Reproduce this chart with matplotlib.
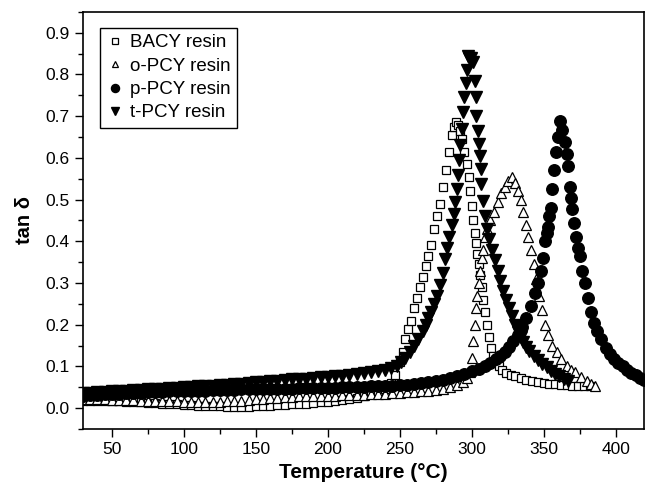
import matplotlib
matplotlib.use("Agg")
import matplotlib.pyplot as plt
from matplotlib.ticker import MultipleLocator

plt.rcParams['font.family'] = ['Liberation Sans', 'DejaVu Sans']

# ---- data (temperature in degC, tan delta) ----
base_T = [30, 35, 40, 45, 50, 55, 60, 65, 70, 75, 80, 85, 90, 95, 100, 105, 110,
          115, 120, 125, 130, 135, 140, 145, 150, 155, 160, 165, 170, 175, 180,
          185, 190, 195, 200, 205, 210, 215, 220, 225, 230, 235]

bacy_T = base_T + [240, 244, 247, 250, 252, 254, 256, 258, 260, 262, 264, 266, 268,
                   270, 272, 274, 276, 278, 280, 282, 284, 286, 287.5, 289, 290.5,
                   292, 293.5, 295, 296.5, 298, 299, 300, 301, 302, 303, 304, 305,
                   306, 307, 308, 309.3, 310.5, 312, 313.5, 315, 317, 319, 321, 324,
                   327, 330, 334, 338, 342, 346, 350, 354, 358, 362, 366, 370, 374,
                   378, 382]
bacy_y = [.018, .018, .017, .017, .016, .016, .015, .014, .014, .013, .012, .011,
          .010, .009, .008, .007, .006, .005, .004, .004, .003, .003, .003, .003,
          .004, .005, .006, .007, .008, .009, .010, .011, .012, .014, .015, .017,
          .019, .022, .025, .029, .033, .038,
          .045, .06, .08, .11, .135, .165, .19, .21, .24, .265, .29, .315, .34,
          .365, .39, .43, .46, .49, .53, .57, .615, .655, .675, .685, .68,
          .665, .645, .615, .585, .555, .52, .485, .45, .42, .395, .37, .345,
          .32, .29, .26, .23, .2, .17, .145, .125, .11, .1, .092, .085,
          .08, .076, .072, .068, .065, .062, .06, .058, .057, .056, .055, .054, .053,
          .052, .052]

opcy_T = base_T + [240, 245, 250, 255, 260, 265, 270, 275, 280, 285, 290, 294, 297,
                   299, 300, 301, 302, 303, 304, 305, 306, 307, 308, 309.3, 311, 313,
                   315.5, 318, 320.5, 323, 325.5, 327.7, 330, 332, 334.6, 336, 337.6,
                   339, 341, 343, 345, 347, 349, 351, 353, 356, 359, 362, 366, 369,
                   372, 376, 380, 383, 385.5]
opcy_y = [.022, .022, .021, .021, .020, .020, .019, .019, .018, .018, .017, .017,
          .016, .016, .015, .015, .015, .015, .015, .015, .016, .017, .018, .019,
          .021, .022, .024, .025, .026, .027, .028, .028, .029, .029, .030, .030,
          .031, .031, .032, .032, .033, .034,
          .035, .036, .037, .038, .039, .040, .042, .044, .046, .050, .055, .062, .072,
          .086, .12, .16, .2, .24, .27, .3, .33, .36, .38, .41, .43, .45,
          .47, .495, .515, .53, .545, .554, .54, .52, .50, .47, .44,
          .41, .38, .345, .31, .27, .235, .20, .175, .15, .134, .118, .1, .092,
          .086, .075, .065, .058, .054]

ppcy_T = base_T + [240, 245, 250, 255, 260, 265, 270, 275, 280, 285, 290, 295, 300,
                   305, 309, 313, 317, 320, 323, 326, 329, 332, 335, 338, 341, 344,
                   346, 348, 349.5, 351, 352, 353, 353.5, 355, 356, 357.5, 358.7, 360,
                   361.2, 363, 364.6, 366, 367, 368, 369, 370, 371.3, 372.5, 374, 375,
                   377, 379, 381, 383, 385, 387, 390, 393, 396, 399, 402, 405, 408,
                   411, 414, 417, 420]
ppcy_y = [.030, .031, .032, .033, .034, .035, .036, .036, .037, .038, .038, .039,
          .040, .040, .041, .041, .042, .042, .043, .043, .044, .044, .045, .045,
          .046, .046, .046, .047, .047, .047, .048, .048, .048, .049, .049, .049,
          .050, .050, .051, .051, .052, .052,
          .053, .054, .055, .056, .058, .06, .062, .065, .068, .072, .077, .082, .088,
          .094, .1, .108, .117, .125, .135, .147, .16, .175, .195, .215, .245, .275,
          .3, .33, .36, .40, .42, .435, .46, .48, .525, .57, .614, .65,
          .689, .668, .637, .61, .58, .53, .505, .477, .445, .41, .385, .365,
          .33, .30, .265, .23, .205, .185, .165, .145, .13, .118, .108, .1, .092,
          .085, .079, .073, .068]

tpcy_T = base_T + [240, 244, 248, 251, 254, 257, 260, 263, 266, 268, 270, 272, 274,
                   276, 278, 280, 281.6, 283, 284.5, 286, 287.5, 288.5, 289.5, 290.3,
                   291, 292, 293, 294, 295, 295.8, 296.7, 297.7, 298.5, 299.5, 301.2,
                   302.2, 302.8, 303.3, 304.4, 305.2, 305.8, 306.4, 306.8, 308, 309.3,
                   310.5, 312, 314, 316, 318, 320, 322, 324, 326, 328, 330, 332, 334,
                   336, 338, 340, 343, 346, 349, 352, 355, 358, 361, 364, 367]
tpcy_y = [.036, .037, .038, .039, .040, .041, .042, .043, .044, .045, .046, .047,
          .048, .049, .050, .051, .052, .053, .054, .055, .056, .058, .059, .060,
          .062, .063, .065, .066, .068, .069, .070, .071, .073, .074, .075, .077,
          .078, .080, .082, .084, .086, .089,
          .092, .096, .10, .11, .12, .135, .15, .165, .185, .2, .215, .23, .25,
          .27, .295, .325, .357, .385, .41, .44, .465, .495, .525, .56,
          .595, .63, .67, .71, .745, .78, .81, .845, .84, .84, .83,
          .785, .745, .70, .665, .633, .605, .573, .537, .496, .46,
          .43, .405, .38, .355, .33, .305, .28, .26, .24, .22, .2, .182, .17,
          .158, .147, .137, .125, .115, .106, .098, .09, .083, .076, .07, .064]

fig = plt.figure(figsize=(6.46, 4.93), dpi=100)
ax = fig.add_axes([0.1285, 0.1298, 0.869, 0.846])

ax.plot(bacy_T, bacy_y, ls='none', marker='s', ms=6.0, mfc='white', mec='black',
        mew=0.9, label='BACY resin')
ax.plot(opcy_T, opcy_y, ls='none', marker='^', ms=7.0, mfc='white', mec='black',
        mew=0.9, label='o-PCY resin')
ax.plot(ppcy_T, ppcy_y, ls='none', marker='o', ms=8.3, mfc='black', mec='black',
        label='p-PCY resin')
ax.plot(tpcy_T, tpcy_y, ls='none', marker='v', ms=8.3, mfc='black', mec='black',
        label='t-PCY resin')

ax.set_xlim(30, 420)
ax.set_ylim(-0.05, 0.95)
ax.xaxis.set_major_locator(MultipleLocator(50))
ax.xaxis.set_minor_locator(MultipleLocator(25))
ax.yaxis.set_major_locator(MultipleLocator(0.1))
ax.yaxis.set_minor_locator(MultipleLocator(0.05))
ax.tick_params(which='both', direction='out', top=False, right=False,
               labelsize=12.5, width=1)
ax.tick_params(which='major', length=6)
ax.tick_params(which='minor', length=3.5)
for s in ax.spines.values():
    s.set_linewidth(1.2)

ax.set_xlabel('Temperature (°C)', fontsize=15, fontweight='bold', labelpad=4)
ax.set_ylabel('tan δ', fontsize=14.5, fontweight='bold', labelpad=8)

leg = ax.legend(loc='upper left', bbox_to_anchor=(0.03, 0.962), borderaxespad=0,
                fontsize=13.5, frameon=True, fancybox=False, framealpha=1,
                edgecolor='black', handlelength=0.9, handletextpad=0.35,
                labelspacing=0.33, borderpad=0.35, markerscale=0.7)
leg.get_frame().set_linewidth(1.0)

fig.savefig('out.png', dpi=100)
